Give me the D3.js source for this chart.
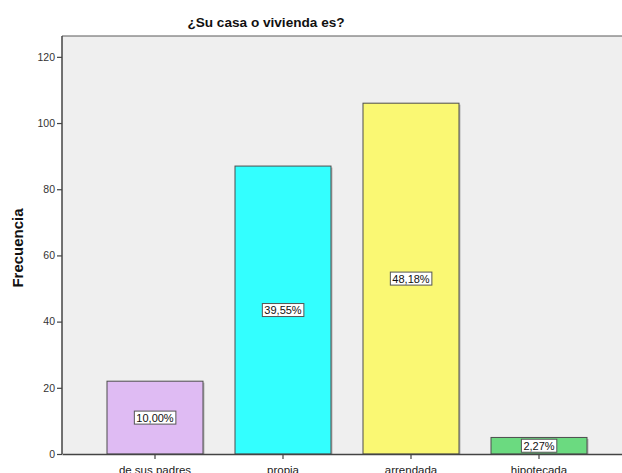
<!DOCTYPE html>
<html>
<head>
<meta charset="utf-8">
<script src="https://cdn.jsdelivr.net/npm/d3@7"></script>
<style>
  body { margin: 0; background: #fff; }
  text { font-family: "Liberation Sans", Arial, sans-serif; }
</style>
</head>
<body>
<div id="chart-container"></div>
<script>
// Categories and frequencies
const categories = ["de sus padres", "propia", "arrendada", "hipotecada"];
const counts = [22, 87, 106, 5];
const percentLabels = ["10,00%", "39,55%", "48,18%", "2,27%"];
const barColors = ["#dfbbf3", "#33ffff", "#faf873", "#6bda80"];
const yTicks = [0, 20, 40, 60, 80, 100, 120];

const width = 622, height = 473;
const margin = { left: 62, top: 36, right: 0, bottom: 19 };

const svg = d3.select("#chart-container")
  .append("svg")
  .attr("width", width)
  .attr("height", height);

const xScale = d3.scaleBand()
  .domain(categories)
  .range([margin.left, width - margin.right])
  .paddingInner(0.25)
  .paddingOuter(0.3125)
  .align(0.5625);

const yScale = d3.scaleLinear()
  .domain([0, 126.3])
  .range([height - margin.bottom, margin.top]);

// plot background
svg.append("rect")
  .attr("x", margin.left)
  .attr("y", margin.top)
  .attr("width", width - margin.left - margin.right)
  .attr("height", yScale(0) - margin.top)
  .attr("fill", "#efefef");

// top border of plot frame
svg.append("line")
  .attr("x1", margin.left).attr("x2", width)
  .attr("y1", margin.top).attr("y2", margin.top)
  .attr("stroke", "#5a5a5a")
  .attr("stroke-width", 1.2);

// bars (with a light shadow)
const bars = svg.selectAll("g.bar")
  .data(counts)
  .enter()
  .append("g")
  .attr("class", "bar");

bars.append("rect")
  .attr("x", (d, i) => xScale(categories[i]) + 1.5)
  .attr("y", d => yScale(d) + 1.5)
  .attr("width", xScale.bandwidth())
  .attr("height", d => yScale(0) - yScale(d) - 1.5)
  .attr("fill", "#b5b5b5");

bars.append("rect")
  .attr("x", (d, i) => xScale(categories[i]))
  .attr("y", d => yScale(d))
  .attr("width", xScale.bandwidth())
  .attr("height", d => yScale(0) - yScale(d))
  .attr("fill", (d, i) => barColors[i])
  .attr("stroke", "#4d4d4d")
  .attr("stroke-width", 1);

// percent labels in white boxes at bar mid-height
bars.each(function(d, i) {
  const g = d3.select(this);
  const cx = xScale(categories[i]) + xScale.bandwidth() / 2;
  const cy = (yScale(d) + yScale(0)) / 2;
  const t = g.append("text")
    .attr("x", cx)
    .attr("y", cy)
    .attr("text-anchor", "middle")
    .attr("dominant-baseline", "central")
    .attr("font-size", "11px")
    .attr("fill", "#111")
    .text(percentLabels[i]);
  const bb = t.node().getBBox();
  g.insert("rect", "text")
    .attr("x", bb.x - 2)
    .attr("y", cy - 6.5)
    .attr("width", bb.width + 4)
    .attr("height", 13)
    .attr("fill", "#fff")
    .attr("stroke", "#555")
    .attr("stroke-width", 1);
});

// axes
const yAxis = d3.axisLeft(yScale)
  .tickValues(yTicks)
  .tickSize(5)
  .tickPadding(2)
  .tickFormat(d3.format("d"));

const yG = svg.append("g")
  .attr("transform", `translate(${margin.left},0)`)
  .call(yAxis);

const xAxis = d3.axisBottom(xScale)
  .tickSize(5)
  .tickSizeOuter(0)
  .tickPadding(7);

const xG = svg.append("g")
  .attr("transform", `translate(0,${yScale(0)})`)
  .call(xAxis);

[yG, xG].forEach(g => {
  g.select(".domain").attr("stroke", "#444").attr("stroke-width", 1.5);
  g.selectAll(".tick line").attr("stroke", "#444").attr("stroke-width", 1.2);
  g.selectAll(".tick text")
    .attr("font-family", "'Liberation Sans', Arial, sans-serif")
    .attr("font-size", "10.5px")
    .attr("fill", "#333");
});
xG.selectAll(".tick text").attr("font-size", "11.5px").attr("fill", "#222");
yG.select(".domain").attr("d", `M-0,${yScale(0)}V${margin.top}`);

// title
svg.append("text")
  .attr("x", 266)
  .attr("y", 27)
  .attr("text-anchor", "middle")
  .attr("font-size", "13.6px")
  .attr("font-weight", "bold")
  .attr("fill", "#111")
  .text("¿Su casa o vivienda es?");

// y axis label
svg.append("text")
  .attr("transform", "rotate(-90)")
  .attr("x", -248)
  .attr("y", 23)
  .attr("text-anchor", "middle")
  .attr("font-size", "15px")
  .attr("font-weight", "bold")
  .attr("fill", "#111")
  .text("Frecuencia");
</script>
</body>
</html>
